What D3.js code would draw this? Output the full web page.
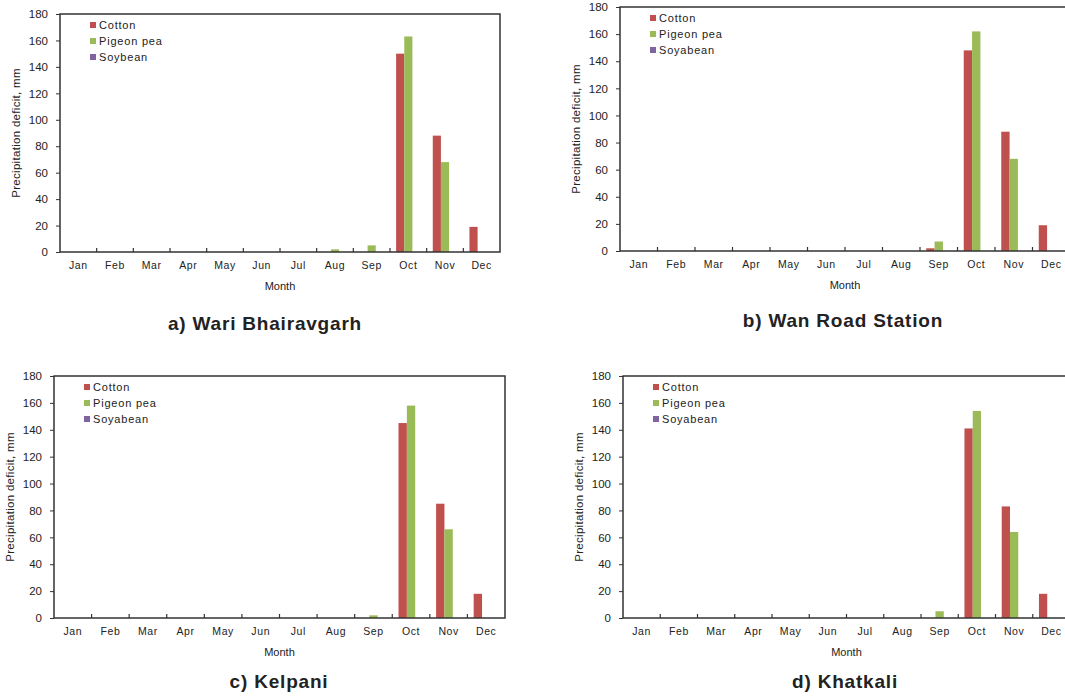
<!DOCTYPE html>
<html>
<head>
<meta charset="utf-8">
<script src="https://cdn.jsdelivr.net/npm/d3@7"></script>
<style>
  body { margin: 0; background: #fff; }
  svg { display: block; font-family: "Liberation Sans", Arial, sans-serif; }
</style>
</head>
<body>
<svg id="chart" width="1065" height="699"></svg>
<script>
var months = ["Jan", "Feb", "Mar", "Apr", "May", "Jun", "Jul", "Aug", "Sep", "Oct", "Nov", "Dec"];
var series = ["Cotton", "Pigeon pea", "Soyabean"];
var yTicks = [0, 20, 40, 60, 80, 100, 120, 140, 160, 180];

// precipitation deficit (mm) per month
var wariCotton  = [0, 0, 0, 0, 0, 0, 0, 0, 0, 150, 88, 19];
var wariPigeon  = [0, 0, 0, 0, 0, 0, 0, 2, 5, 163, 68, 0];
var wariSoya    = [0, 0, 0, 0, 0, 0, 0, 0, 0, 0, 0, 0];

var wanCotton   = [0, 0, 0, 0, 0, 0, 0, 0, 2, 148, 88, 19];
var wanPigeon   = [0, 0, 0, 0, 0, 0, 0, 0, 7, 162, 68, 0];
var wanSoya     = [0, 0, 0, 0, 0, 0, 0, 0, 0, 0, 0, 0];

var kelCotton   = [0, 0, 0, 0, 0, 0, 0, 0, 0, 145, 85, 18];
var kelPigeon   = [0, 0, 0, 0, 0, 0, 0, 0, 2, 158, 66, 0];
var kelSoya     = [0, 0, 0, 0, 0, 0, 0, 0, 0, 0, 0, 0];

var khaCotton   = [0, 0, 0, 0, 0, 0, 0, 0, 0, 141, 83, 18];
var khaPigeon   = [0, 0, 0, 0, 0, 0, 0, 0, 5, 154, 64, 0];
var khaSoya     = [0, 0, 0, 0, 0, 0, 0, 0, 0, 0, 0, 0];

var colors = ["#c0504d", "#9bbb59", "#8064a2"];

var panels = [
  { title: "a) Wari Bhairavgarh", soy: "Soybean", values: [wariCotton, wariPigeon, wariSoya],
    left: 60, top: 14, right: 500, bottom: 252, titleX: 265, titleY: 330 },
  { title: "b) Wan Road Station", soy: "Soyabean", values: [wanCotton, wanPigeon, wanSoya],
    left: 620, top: 7, right: 1070, bottom: 251, titleX: 843, titleY: 327 },
  { title: "c) Kelpani", soy: "Soyabean", values: [kelCotton, kelPigeon, kelSoya],
    left: 54, top: 376, right: 505, bottom: 618, titleX: 279, titleY: 688 },
  { title: "d) Khatkali", soy: "Soyabean", values: [khaCotton, khaPigeon, khaSoya],
    left: 623, top: 376, right: 1070, bottom: 618, titleX: 845, titleY: 688 }
];

var svg = d3.select("#chart");

panels.forEach(function(p) {
  var g = svg.append("g");

  var x = d3.scaleBand().domain(months).range([p.left, p.right]);
  var xs = d3.scaleBand().domain(series).range([0, x.bandwidth()]).paddingOuter(0.75);
  var y = d3.scaleLinear().domain([0, 180]).range([p.bottom, p.top]);

  // bars
  series.forEach(function(s, si) {
    g.append("g").selectAll("rect")
      .data(p.values[si])
      .enter().append("rect")
      .attr("x", function(d, i) { return x(months[i]) + xs(s); })
      .attr("width", xs.bandwidth())
      .attr("y", function(d) { return y(d); })
      .attr("height", function(d) { return y(0) - y(d); })
      .attr("fill", colors[si]);
  });

  // plot frame
  g.append("rect")
    .attr("x", p.left).attr("y", p.top)
    .attr("width", p.right - p.left).attr("height", p.bottom - p.top)
    .attr("fill", "none").attr("stroke", "#333").attr("stroke-width", 1.5);

  // y axis
  var yAxis = g.append("g")
    .attr("transform", "translate(" + p.left + ",0)")
    .call(d3.axisLeft(y).tickValues(yTicks).tickSize(4).tickPadding(8));
  yAxis.select(".domain").remove();
  yAxis.selectAll("line").attr("stroke", "#333");
  yAxis.selectAll("text").attr("font-size", 11.5).attr("fill", "#222")
    .attr("font-family", "Liberation Sans, Arial, sans-serif");

  // x axis labels
  var xAxis = g.append("g")
    .attr("transform", "translate(0," + p.bottom + ")")
    .call(d3.axisBottom(x).tickSize(0).tickPadding(10));
  xAxis.select(".domain").remove();
  xAxis.selectAll("text").attr("font-size", 10.5).attr("fill", "#222")
    .attr("letter-spacing", 0.6)
    .attr("font-family", "Liberation Sans, Arial, sans-serif");

  // category boundary ticks pointing up
  var bounds = months.slice(1).map(function(m) { return x(m); });
  g.append("g").selectAll("line")
    .data(bounds)
    .enter().append("line")
    .attr("x1", function(d) { return d; }).attr("x2", function(d) { return d; })
    .attr("y1", p.bottom).attr("y2", p.bottom - 4)
    .attr("stroke", "#333").attr("stroke-width", 1.2);

  // axis titles
  g.append("text")
    .attr("x", (p.left + p.right) / 2).attr("y", p.bottom + 38)
    .attr("text-anchor", "middle").attr("font-size", 11).attr("fill", "#222")
    .text("Month");

  g.append("text")
    .attr("transform", "translate(" + (p.left - 40) + "," + ((p.top + p.bottom) / 2) + ") rotate(-90)")
    .attr("text-anchor", "middle").attr("font-size", 11.5).attr("fill", "#222")
    .attr("letter-spacing", 0.3)
    .text("Precipitation deficit, mm");

  // legend
  var names = [series[0], series[1], p.soy];
  var lg = g.append("g").attr("transform", "translate(" + (p.left + 30) + "," + (p.top + 12) + ")");
  names.forEach(function(n, i) {
    lg.append("rect").attr("x", 0).attr("y", i * 16 - 4).attr("width", 6).attr("height", 6)
      .attr("fill", colors[i]);
    lg.append("text").attr("x", 9).attr("y", i * 16 + 3)
      .attr("font-size", 11).attr("fill", "#222").attr("letter-spacing", 0.8)
      .text(n);
  });

  // panel title
  g.append("text")
    .attr("x", p.titleX).attr("y", p.titleY)
    .attr("text-anchor", "middle").attr("font-size", 19).attr("font-weight", "bold")
    .attr("letter-spacing", 0.8).attr("fill", "#222")
    .text(p.title);
});
</script>
</body>
</html>
